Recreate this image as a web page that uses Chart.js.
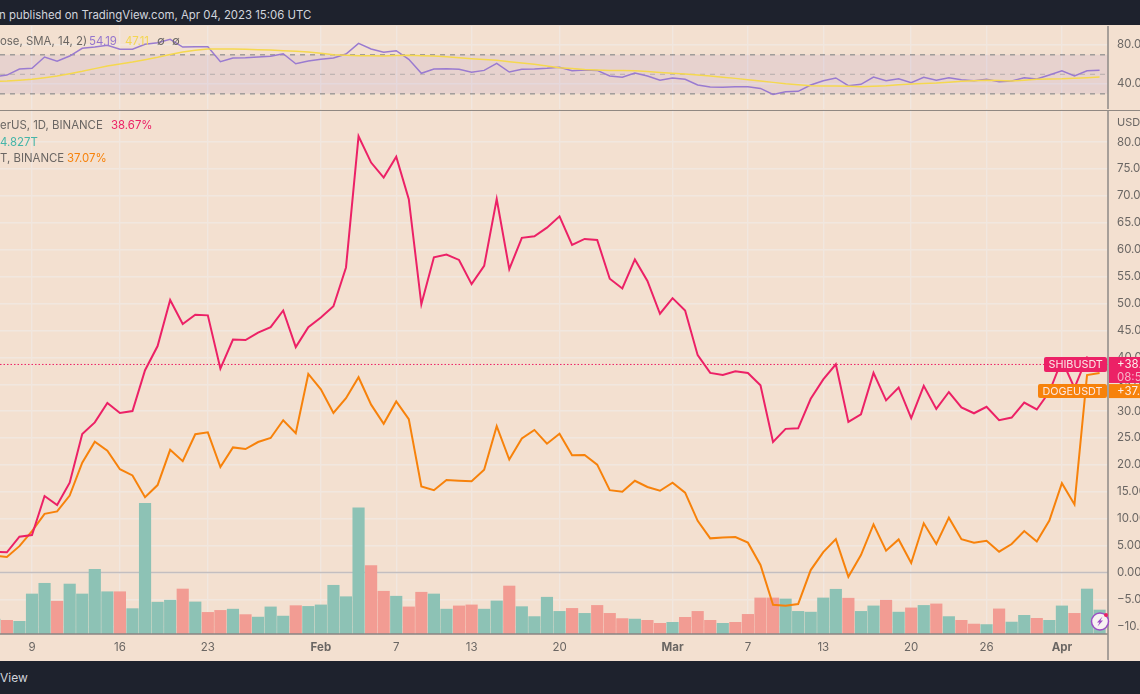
<!DOCTYPE html>
<html>
<head>
<meta charset="utf-8">
<script src="https://cdn.jsdelivr.net/npm/chart.js@4"></script>
<style>
html,body{margin:0;padding:0;width:1140px;height:694px;overflow:hidden;background:#f3e0d0;font-family:Inter,"Noto Sans",sans-serif;}
canvas{position:absolute;left:0;display:block;}
.bar{position:absolute;left:0;width:1140px;background:#1e222d;color:#d1d4dc;}
.t{position:absolute;white-space:nowrap;font-size:11.4px;line-height:16px;color:#6a6663;}
</style>
</head>
<body>
<canvas id="rsi" width="1140" height="83" style="top:26px"></canvas>
<canvas id="main" width="1140" height="550" style="top:110px"></canvas>
<div class="bar" style="top:0;height:25px"><span class="t" style="left:-1px;top:7px;color:#d1d4dc;font-size:11.4px">n published on TradingView.com, Apr 04, 2023 15:06 UTC</span></div>
<div class="bar" style="top:661px;height:33px"><span class="t" style="left:0;top:9px;color:#d1d4dc;font-size:12px">View</span></div>
<span class="t" style="left:0;top:33px">ose, SMA, 14, 2)</span>
<span class="t" style="left:89px;top:33px;color:#9575cd">54.19</span>
<span class="t" style="left:125px;top:33px;color:#f3d653">47.11</span>
<span class="t" style="left:157px;top:33px">∅</span>
<span class="t" style="left:172px;top:33px">∅</span>
<span class="t" style="left:0;top:117px">erUS, 1D, BINANCE</span>
<span class="t" style="left:111px;top:117px;color:#ec2166">38.67%</span>
<span class="t" style="left:0;top:134px;color:#45b5a8">4.827T</span>
<span class="t" style="left:0;top:150px">T, BINANCE</span>
<span class="t" style="left:67px;top:150px;color:#f7820b">37.07%</span>
<span class="t" style="left:1117px;top:114px;font-size:11px">USD</span>
<script>
const categories = ["Jan 6","Jan 7","Jan 8","Jan 9","Jan 10","Jan 11","Jan 12","Jan 13","Jan 14","Jan 15","Jan 16","Jan 17","Jan 18","Jan 19","Jan 20","Jan 21","Jan 22","Jan 23","Jan 24","Jan 25","Jan 26","Jan 27","Jan 28","Jan 29","Jan 30","Jan 31","Feb 1","Feb 2","Feb 3","Feb 4","Feb 5","Feb 6","Feb 7","Feb 8","Feb 9","Feb 10","Feb 11","Feb 12","Feb 13","Feb 14","Feb 15","Feb 16","Feb 17","Feb 18","Feb 19","Feb 20","Feb 21","Feb 22","Feb 23","Feb 24","Feb 25","Feb 26","Feb 27","Feb 28","Mar 1","Mar 2","Mar 3","Mar 4","Mar 5","Mar 6","Mar 7","Mar 8","Mar 9","Mar 10","Mar 11","Mar 12","Mar 13","Mar 14","Mar 15","Mar 16","Mar 17","Mar 18","Mar 19","Mar 20","Mar 21","Mar 22","Mar 23","Mar 24","Mar 25","Mar 26","Mar 27","Mar 28","Mar 29","Mar 30","Mar 31","Apr 1","Apr 2","Apr 3","Apr 4"];
const tickDates = ["Jan 9","Jan 16","Jan 23","Feb 1","Feb 7","Feb 13","Feb 20","Mar 1","Mar 7","Mar 13","Mar 20","Mar 26","Apr 1"];
const tickLabels = ["9","16","23","Feb","7","13","20","Mar","7","13","20","26","Apr"];
const boldLabels = ["Feb","Mar","Apr"];
const priceTicks = [80,75,70,65,60,55,50,45,40,35,30,25,20,15,10,5,0,-5,-10];
const rsiTicks = [80,40];
const rsiLevels = [70,50,30];

const shib = [3.9,3.75,6.65,6.97,14.22,12.55,16.7,25.74,27.9,31.5,29.65,30.0,37.6,42.1,50.65,46.2,47.9,47.8,37.9,43.3,43.2,44.6,45.6,48.7,41.9,45.6,47.4,49.5,56.7,81.1,76.2,73.4,77.3,69.4,49.85,58.6,59.1,58.1,53.6,57.0,69.4,56.4,62.2,62.5,64.1,66.2,60.9,62.0,61.8,54.6,52.8,58.2,54.2,48.1,51.0,48.7,40.4,37.1,36.7,37.4,37.1,34.8,24.25,26.7,26.8,32.3,35.9,38.7,28.0,29.4,37.1,32.0,34.4,28.7,34.7,30.4,33.55,30.7,29.6,30.8,28.3,28.8,31.6,30.3,33.6,39.5,34.3,40.0,38.67];
const doge = [3.1,2.9,4.9,7.7,10.9,11.35,14.3,20.4,24.3,22.65,19.2,18.05,14.0,16.25,22.8,20.7,25.7,26.05,19.6,23.25,22.95,24.25,25.0,28.3,25.9,36.9,34.05,29.65,32.4,36.3,31.2,27.65,31.8,28.5,16.0,15.3,17.2,17.05,16.95,19.1,27.2,21.0,24.9,26.5,23.95,25.8,21.8,21.85,20.05,15.3,15.0,17.05,15.9,15.2,16.7,14.85,9.6,6.35,6.5,6.6,5.55,1.4,-6.0,-6.2,-5.85,0.45,3.8,6.2,-0.8,3.25,8.95,4.05,6.15,1.77,9.15,5.3,10.2,6.2,5.55,5.9,3.87,5.3,7.7,5.75,9.65,16.6,12.65,36.7,37.07];
const volumeT = [3.0,2.75,2.55,8.05,10.2,6.6,10.05,8.05,13.0,8.5,8.5,5.1,26.3,6.4,6.8,9.05,6.45,4.35,4.75,5.0,3.9,3.4,5.45,3.6,5.7,5.55,5.85,9.8,7.5,25.4,13.75,8.6,7.6,5.45,8.4,8.05,5.0,5.65,5.85,5.0,6.65,9.65,5.5,3.5,7.4,4.55,5.15,4.15,5.75,4.15,3.1,3.0,2.75,2.15,2.35,3.35,4.55,2.75,2.15,2.35,3.95,7.25,7.25,7.05,4.55,4.4,7.25,9.0,7.2,4.55,5.65,6.8,4.4,5.25,5.75,6.05,3.5,2.75,2.0,1.9,5.05,2.4,3.75,3.15,2.75,5.65,4.15,9.05,4.827];
const volumeUp = [1,0,1,1,1,0,1,1,1,1,0,1,1,1,1,0,1,0,0,1,0,1,1,1,0,1,1,1,1,1,0,0,1,0,0,1,1,0,0,1,1,0,1,1,1,1,0,1,0,0,0,1,0,0,1,0,0,0,1,0,0,0,0,1,1,1,1,1,0,1,1,0,1,0,1,0,1,0,0,1,0,1,1,0,1,1,0,1,1];
const rsiValues = [47.5,49.2,55.4,56.1,67.7,63.3,68.7,76.6,77.9,79.7,75.6,75.6,80.7,82.4,85.8,77.9,78.3,78.3,62.9,66.7,67,67.7,68.4,71.1,60.8,63.6,65.3,66.7,70.8,81.7,75.9,72.5,74.2,65.3,51,55.4,55.7,55.1,52,54,61.2,52.3,55.1,55.4,56.1,57.1,53.6,54.4,54,48.2,46.9,51.3,48.2,43.8,46.2,44.8,39,36.9,36.6,37.2,37.2,35.5,29.4,32.1,32.5,39,43.4,46.2,38.3,39.7,47.2,43.4,45.4,41.3,46.9,43.8,46.5,44.4,43.4,44.8,42.4,43.1,46.5,45.1,49.2,53.6,48.2,53.6,54.19];
const rsiSma = [42.6,43.1,43.9,44.8,46.4,48.2,50.6,53,55.8,58.5,60.6,62.6,65,67.4,70.2,72.8,74.6,75.9,76,75.9,75.6,75.2,74.8,74.2,73.5,72.8,71.5,70.1,69.5,69,68.9,68.7,69.3,69.4,69,68.7,67.9,67,66,65.2,64.3,62.9,61.5,60.2,58.5,56.8,56,55,54.5,54,53.8,53.6,52.8,51.9,51,50.2,49.2,48.2,47,45.8,44.5,43.1,41.7,40.3,39.2,38.3,38.1,38,37.6,37.2,37.8,38.3,39.2,40,40.5,41,41.9,42.8,43.3,43.8,43.5,43.1,44,44.8,45.1,45.4,46,46.5,47.11];

const GRID = "#f1e7df", AXIS = "#948f8b", TEXT = "#6a6663";
const PINK = "#ec2166", ORANGE = "#f7820b", TEAL = "#8dc2b5", SALMON = "#f29c93";
const tickIdx = tickDates.map(d => categories.indexOf(d));
const points = arr => arr.map((v, i) => ({x: i, y: v}));
const fmt = v => v.toFixed(2).replace("-", "\u2212");
const xMin = 0.452, xMax = 88.67;
const noPad = s => { s.paddingTop = 0; s.paddingBottom = 0; s.paddingLeft = 0; s.paddingRight = 0; };

function xAxis(showLabels) {
  return {
    type: "linear", min: xMin, max: xMax, offset: false,
    grid: {color: GRID, lineWidth: 1.4, drawTicks: false, offset: false},
    border: {display: false},
    afterBuildTicks: s => { s.ticks = tickIdx.map(v => ({value: v})); },
    afterFit: s => { s.height = showLabels ? 26 : 0; noPad(s); },
    ticks: {
      display: showLabels, autoSkip: false, maxRotation: 0, padding: 7, color: TEXT,
      callback: v => tickLabels[tickIdx.indexOf(v)],
      font: c => ({family: "Inter", size: 11.5, weight: boldLabels.includes(tickLabels[tickIdx.indexOf(c.tick && c.tick.value)]) ? "bold" : "normal"})
    }
  };
}
function yAxis(min, max, list) {
  return {
    position: "right", min, max,
    grid: {color: GRID, lineWidth: 1.4, drawTicks: false},
    border: {display: false},
    afterBuildTicks: s => { s.ticks = list.map(v => ({value: v})); },
    afterFit: s => { s.width = 32; noPad(s); },
    ticks: {padding: 9, color: TEXT, font: {family: "Inter", size: 11.5}, callback: fmt, autoSkip: false}
  };
}

const rsiPlugin = {
  id: "rsiBand",
  beforeDatasetsDraw(c) {
    const {ctx, chartArea: a, scales: {y}} = c;
    const top = y.getPixelForValue(rsiLevels[0]), bot = y.getPixelForValue(rsiLevels[2]);
    ctx.save();
    ctx.fillStyle = "rgba(126,87,194,0.10)";
    ctx.fillRect(a.left, top, a.right - a.left, bot - top);
    ctx.strokeStyle = "#a09c9a"; ctx.setLineDash([5, 5]);
    rsiLevels.forEach(v => {
      ctx.lineWidth = v === 50 ? 1 : 1.5;
      ctx.globalAlpha = v === 50 ? 0.7 : 1;
      const p = y.getPixelForValue(v);
      ctx.beginPath(); ctx.moveTo(a.left, p); ctx.lineTo(a.right - 3, p); ctx.stroke();
    });
    ctx.restore();
  },
  afterDraw(c) {
    const {ctx, chartArea: a} = c;
    ctx.save(); ctx.strokeStyle = AXIS; ctx.lineWidth = 1.6;
    ctx.beginPath(); ctx.moveTo(a.right, 0); ctx.lineTo(a.right, c.height); ctx.stroke();
    ctx.restore();
  }
};
const mainPlugin = {
  id: "mainDecor",
  beforeDatasetsDraw(c) {
    const {ctx, chartArea: a, scales: {y}} = c;
    ctx.save();
    ctx.strokeStyle = "#c3bec0"; ctx.lineWidth = 1.4;
    let p = y.getPixelForValue(0);
    ctx.beginPath(); ctx.moveTo(a.left, p); ctx.lineTo(a.right, p); ctx.stroke();
    ctx.strokeStyle = PINK; ctx.lineWidth = 1; ctx.setLineDash([1.5, 2]);
    p = y.getPixelForValue(shib[shib.length - 1]);
    ctx.beginPath(); ctx.moveTo(a.left, p); ctx.lineTo(a.right, p); ctx.stroke();
    ctx.restore();
  },
  afterDraw(c) {
    const {ctx, chartArea: a, scales: {y}} = c;
    ctx.save();
    ctx.strokeStyle = "#6f6b69"; ctx.lineWidth = 1.6;
    ctx.beginPath(); ctx.moveTo(0, 0); ctx.lineTo(c.width, 0); ctx.stroke();
    ctx.strokeStyle = "#8a8583"; ctx.lineWidth = 1.4;
    ctx.beginPath(); ctx.moveTo(0, a.bottom); ctx.lineTo(a.right, a.bottom); ctx.stroke();
    ctx.strokeStyle = AXIS; ctx.lineWidth = 1.6;
    ctx.beginPath(); ctx.moveTo(a.right, 0); ctx.lineTo(a.right, c.height); ctx.stroke();

    const ps = y.getPixelForValue(shib[shib.length - 1]);
    const pd = y.getPixelForValue(doge[doge.length - 1]);
    ctx.textBaseline = "middle"; ctx.textAlign = "left";
    const tag = (lx, w, top, h, col, txt) => {
      ctx.fillStyle = col;
      ctx.beginPath(); ctx.roundRect(lx, top, w, h, 2); ctx.fill();
      ctx.fillStyle = "#fbe8e6";
      ctx.font = "10.8px Inter";
      ctx.fillText(txt, lx + 4.5, top + h / 2 + 0.5);
    };
    tag(1044, 63, ps - 7.5, 15, PINK, "SHIBUSDT");
    tag(1038, 69, pd + 11, 14, ORANGE, "DOGEUSDT");
    ctx.fillStyle = PINK; ctx.fillRect(a.right + 1, ps - 7.5, 32, 26);
    ctx.fillStyle = ORANGE; ctx.fillRect(a.right + 1, pd + 11, 32, 14);
    ctx.font = "11.5px Inter";
    ctx.fillStyle = "#fdeeea"; ctx.fillText("+38.67%", 1117, ps + 0.5);
    ctx.fillStyle = "#f7b3c8"; ctx.fillText("08:53:21", 1117, ps + 13);
    ctx.fillStyle = "#fdeeea"; ctx.fillText("+37.07%", 1117, pd + 18.5);

    const ix = 1100, iy = a.bottom - 12.5;
    ctx.beginPath(); ctx.arc(ix, iy, 8.5, 0, 2 * Math.PI);
    ctx.fillStyle = "#f8f2f2"; ctx.fill();
    ctx.strokeStyle = "#9c4fc4"; ctx.lineWidth = 1.5; ctx.stroke();
    ctx.fillStyle = "#9c4fc4";
    ctx.beginPath();
    [[2.5,-5],[-3,1],[-0.5,1],[-2.5,5],[3,-1],[0.5,-1]].forEach((q, i) => i ? ctx.lineTo(ix + q[0], iy + q[1]) : ctx.moveTo(ix + q[0], iy + q[1]));
    ctx.closePath(); ctx.fill();
    ctx.beginPath(); ctx.arc(1106, iy - 6.5, 2, 0, 2 * Math.PI);
    ctx.fillStyle = PINK; ctx.fill();
    ctx.restore();
  }
};
const common = {
  responsive: false, animation: false, events: [],
  layout: {padding: 0},
  plugins: {legend: {display: false}, tooltip: {enabled: false}}
};
const lineSet = (data, color, width, order, axis) => ({
  type: "line", data: points(data), borderColor: color, borderWidth: width,
  pointRadius: 0, tension: 0, fill: false, order, yAxisID: axis,
  borderJoinStyle: "miter"
});
new Chart(document.getElementById("rsi"), {
  type: "line",
  data: {datasets: [lineSet(rsiValues, "#9a7bd0", 1.5, 1, "y"), lineSet(rsiSma, "#f5d84f", 1.5, 0, "y")]},
  options: {...common, scales: {x: xAxis(false), y: yAxis(14.4, 99.5, rsiTicks)}},
  plugins: [rsiPlugin]
});
new Chart(document.getElementById("main"), {
  type: "bar",
  data: {datasets: [
    {type: "bar", data: points(volumeT), yAxisID: "yv", order: 3, barThickness: 11.5,
     backgroundColor: volumeUp.map(u => u ? TEAL : SALMON)},
    lineSet(doge, ORANGE, 2, 2, "y"),
    lineSet(shib, PINK, 2, 1, "y")
  ]},
  options: {...common, scales: {
    x: xAxis(true),
    y: yAxis(-11.43, 85.97, priceTicks),
    yv: {display: false, min: 0, max: 105.4, grid: {display: false}}
  }},
  plugins: [mainPlugin]
});
</script>
</body>
</html>
